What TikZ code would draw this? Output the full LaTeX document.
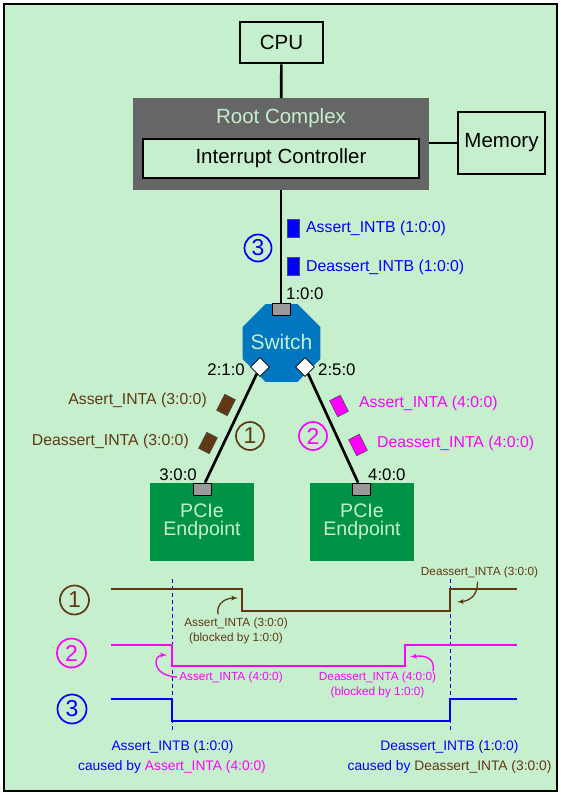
\documentclass[tikz,border=0pt]{standalone}
\usepackage{fontspec}
\setmainfont{Liberation Sans}
\usepackage{tikz}
\usetikzlibrary{arrows,shapes.geometric}

\definecolor{bggreen}{RGB}{198,239,206}
\definecolor{pktbrown}{RGB}{96,57,19}
\definecolor{pktpink}{RGB}{255,0,255}
\definecolor{pktblue}{RGB}{0,0,255}
\definecolor{rcgray}{RGB}{102,102,102}
\definecolor{epgreen}{RGB}{0,146,69}
\definecolor{swblue}{RGB}{0,119,192}
\definecolor{portgray}{RGB}{153,153,153}

\begin{document}
\begin{tikzpicture}[x=1pt,y=-1pt]
    \tikzset{box/.style = {shape=rectangle,draw,line width=2.6pt,fill=bggreen,inner sep=0pt,font=\fontsize{20.5}{24}\selectfont}}
    \tikzset{wire/.style = {line width=2.7pt}}
    \tikzset{port/.style = {shape=rectangle,draw,line width=0.8pt,fill=portgray,minimum width=18pt,minimum height=12pt,inner sep=0pt}}
    \tikzset{updown/.style = {shape=diamond,draw,line width=0.8pt,fill=white,minimum width=19pt,minimum height=19pt,inner sep=0pt}}
    \tikzset{packet/.style = {shape=rectangle,draw=black!70,line width=0.6pt,minimum width=12pt,minimum height=18pt,inner sep=0pt}}
    \tikzset{endpoint/.style = {shape=rectangle,fill=epgreen,minimum width=104pt,minimum height=78pt,text=bggreen,align=center,font=\fontsize{19.6}{18}\selectfont}}
    \tikzset{num/.style = {shape=circle,draw,line width=1.7pt,minimum size=28pt,inner sep=0pt,font=\fontsize{23}{24}\selectfont}}
    \tikzset{lbl/.style = {inner sep=0pt,font=\fontsize{15.8}{18}\selectfont}}
    \tikzset{addr/.style = {inner sep=0pt,font=\fontsize{16.8}{19}\selectfont}}
    \tikzset{note/.style = {inner sep=0pt,align=center,font=\fontsize{11.8}{15}\selectfont}}
    \tikzset{cause/.style = {inner sep=0pt,text=pktblue,font=\fontsize{13.8}{16}\selectfont}}
    \tikzset{wave/.style = {line width=2.2pt}}
    \tikzset{edge/.style = {->,> = latex',line width=1.3pt}}
    \useasboundingbox (0,0) rectangle (561,795);
    \draw[line width=1.8pt,fill=bggreen] (4,4) rectangle (557,791);
    % boxes
    \node[box,minimum width=83pt,minimum height=41pt] (cpu) at (281.5,42.5) {CPU};
    \node[shape=rectangle,fill=rcgray,minimum width=296pt,minimum height=92pt] (rc) at (281,144) {};
    \node[text=bggreen,inner sep=0pt,font=\fontsize{20.5}{24}\selectfont] (rctext) at (281,118) {Root Complex};
    \node[box,minimum width=276pt,minimum height=39pt] (ic) at (281,158.5) {Interrupt Controller};
    \node[box,minimum width=87pt,minimum height=62pt] (mem) at (501.5,143) {Memory};
    \node[shape=regular polygon,regular polygon sides=8,fill=swblue,minimum size=84pt,inner sep=0pt] (sw) at (281.5,343) {};
    \node[text=bggreen,inner sep=0pt,font=\fontsize{21}{24}\selectfont] (swtext) at (281.5,342) {Switch};
    \node[endpoint] (ep1) at (202,522) {PCIe\\Endpoint};
    \node[endpoint] (ep2) at (362,522) {PCIe\\Endpoint};
    % ports
    \node[port] (p100) at (281,309) {};
    \node[updown] (p210) at (260,367) {};
    \node[updown] (p250) at (305,367) {};
    \node[port] (p300) at (202,489) {};
    \node[port] (p400) at (361,489) {};
    \node[addr,anchor=west] (a100) at (286,294) {1:0:0};
    \node[addr,anchor=east] (a210) at (245,370) {2:1:0};
    \node[addr,anchor=west] (a250) at (318,370) {2:5:0};
    \node[addr,anchor=east] (a300) at (197,475) {3:0:0};
    \node[addr,anchor=west] (a400) at (368,475) {4:0:0};
    %links
    \draw[wire] (cpu) -- (rc);
    \draw[wire] (rc.east |- mem) -- (mem);
    \draw[wire] (rc) -- (p100);
    \draw[wire] (p210) -- (p300);
    \draw[wire] (p250) -- (p400);
    % messages
    \node[packet,fill=pktblue] (m3a) at (293,228) {};
    \node[packet,fill=pktblue] (m3d) at (293,266) {};
    \node[lbl,anchor=west,text=pktblue] (l3a) at (306,228) {Assert\_INTB (1:0:0)};
    \node[lbl,anchor=west,text=pktblue] (l3d) at (306,267) {Deassert\_INTB (1:0:0)};
    \node[num,draw=pktblue,text=pktblue,minimum size=27pt] (n3) at (258,248) {3};
    \node[packet,fill=pktbrown,rotate=-27] (m1a) at (226,405) {};
    \node[packet,fill=pktbrown,rotate=-27] (m1d) at (208,443) {};
    \node[lbl,anchor=east,text=pktbrown] (l1a) at (207,400) {Assert\_INTA (3:0:0)};
    \node[lbl,anchor=east,text=pktbrown] (l1d) at (189,441) {Deassert\_INTA (3:0:0)};
    \node[num,draw=pktbrown,text=pktbrown] (n1) at (250,436) {1};
    \node[packet,fill=pktpink,rotate=27] (m2a) at (339,406) {};
    \node[packet,fill=pktpink,rotate=27] (m2d) at (358,445) {};
    \node[lbl,anchor=west,text=pktpink] (l2a) at (359,403) {Assert\_INTA (4:0:0)};
    \node[lbl,anchor=west,text=pktpink] (l2d) at (377,443) {Deassert\_INTA (4:0:0)};
    \node[num,draw=pktpink,text=pktpink] (n2) at (313,436) {2};
    % timing
    \node[num,draw=pktbrown,text=pktbrown,minimum size=29pt] (t1) at (74.5,600) {1};
    \node[num,draw=pktpink,text=pktpink,minimum size=29pt] (t2) at (71.5,653) {2};
    \node[num,draw=pktblue,text=pktblue,minimum size=29pt] (t3) at (72,709) {3};
    \draw[pktblue,line width=0.9pt,dash pattern=on 4pt off 3pt] (172,579) -- (172,733);
    \draw[pktblue,line width=0.9pt,dash pattern=on 4pt off 3pt] (450,579) -- (450,733);
    \draw[wave,pktbrown] (111,589) -- (242,589) -- (242,611) -- (450,611) -- (450,589) -- (517,589);
    \draw[wave,pktpink] (111,645) -- (172,645) -- (172,666) -- (405,666) -- (405,645) -- (517,645);
    \draw[wave,pktblue] (111,699) -- (172,699) -- (172,721) -- (450,721) -- (450,699) -- (517,699);
    \node[note,text=pktbrown] (w1d) at (479.5,572) {Deassert\_INTA (3:0:0)};
    \node[note,text=pktbrown] (w1a) at (236,630.5) {Assert\_INTA (3:0:0)\\(blocked by 1:0:0)};
    \node[note,text=pktpink] (w2a) at (231,677) {Assert\_INTA (4:0:0)};
    \node[note,text=pktpink] (w2d) at (377.5,685) {Deassert\_INTA (4:0:0)\\(blocked by 1:0:0)};
    \coordinate (e1d) at (457,602);
    \coordinate (e1a) at (238,598);
    \coordinate (e2a) at (167,655);
    \coordinate (e2d) at (410,657);
    \draw[edge,pktbrown] ([shift={(-2,4)}]w1d.south) .. controls (478,595) and (470,601) .. (e1d);
    \draw[edge,pktbrown] ([shift={(-18,-3)}]w1a.north) .. controls (216,603) and (226,598) .. (e1a);
    \draw[edge,pktpink] ([xshift=-2pt]w2a.west) .. controls (152,676) and (152,655) .. (e2a);
    \draw[edge,pktpink] ([shift={(-3,-1)}]w2d.north east) .. controls (435,657) and (424,655) .. (e2d);
    \node[cause] (c1a) at (172.5,747) {Assert\_INTB (1:0:0)};
    \node[cause] (c1b) at (172,767) {caused by \textcolor{pktpink}{Assert\_INTA (4:0:0)}};
    \node[cause] (c2a) at (449.5,747) {Deassert\_INTB (1:0:0)};
    \node[cause] (c2b) at (449.5,767) {caused by \textcolor{pktbrown}{Deassert\_INTA (3:0:0)}};
\end{tikzpicture}
\end{document}
